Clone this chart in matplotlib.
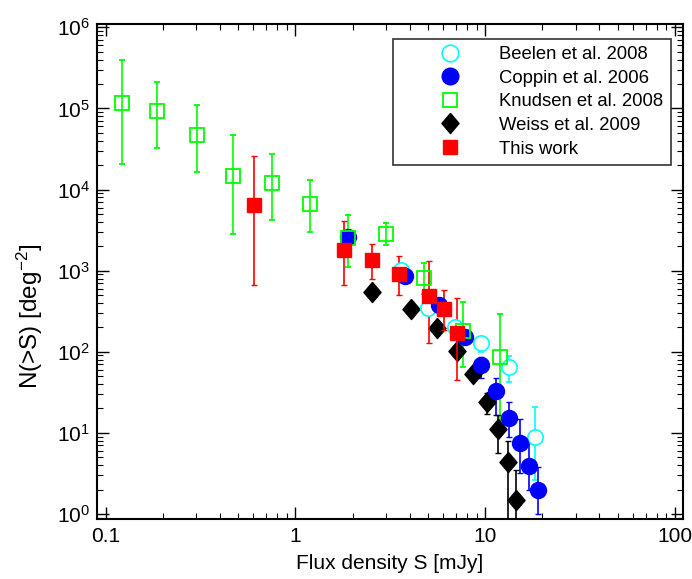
import numpy as np
import matplotlib
matplotlib.use('Agg')
import matplotlib.pyplot as plt
from matplotlib.lines import Line2D
from matplotlib.ticker import LogLocator, FixedLocator, FuncFormatter, NullFormatter

plt.rcParams['font.family'] = ['Liberation Sans', 'DejaVu Sans']
plt.rcParams['mathtext.fontset'] = 'custom'
plt.rcParams['mathtext.rm'] = 'Liberation Sans'
plt.rcParams['mathtext.it'] = 'Liberation Sans:italic'

# Beelen et al. 2008
beelen_s = [3.62, 4.98, 6.89, 9.56, 13.3, 18.4]
beelen_n = [1020, 344, 204, 130, 65.5, 8.98]
beelen_hi = [1020, 344, 204, 150, 88.8, 20.7]
beelen_lo = [1020, 344, 204, 100, 42.8, 2.63]

# Coppin et al. 2006
coppin_s = [1.89, 3.80, 5.69, 7.78, 9.53, 11.4, 13.3, 15.2, 17.1, 19.0]
coppin_n = [2600, 868, 374, 151, 68.8, 33.2, 15.1, 7.45, 3.91, 1.98]
coppin_hi = [2600, 868, 374, 151, 87, 47.9, 24.3, 14.7, 7.57, 3.76]
coppin_lo = [2600, 868, 374, 151, 47.9, 16.6, 8.98, 3.18, 1.98, 1.0]

# Knudsen et al. 2008
knudsen_s = [0.122, 0.187, 0.301, 0.471, 0.754, 1.19, 1.89, 2.99, 4.74, 7.62, 11.9]
knudsen_n = [1.18e5, 9.31e4, 4.71e4, 1.47e4, 1.20e4, 6700, 2510, 2810, 813, 180, 87.1]
knudsen_hi = [3.96e5, 2.14e5, 1.09e5, 4.75e4, 2.77e4, 1.32e4, 4900, 3840, 1234, 415, 290]
knudsen_lo = [2.05e4, 3.29e4, 1.63e4, 2810, 4180, 3030, 1120, 2057, 520, 65.5, 14.4]

# Weiss et al. 2009
weiss_s = [2.53, 4.04, 5.58, 7.06, 8.64, 10.2, 11.7, 13.2, 14.6]
weiss_n = [546, 340, 198, 103, 52.8, 24.3, 11.1, 4.42, 1.49]
weiss_hi = [546, 340, 198, 103, 52.8, 30.8, 16.6, 7.94, 3.49]
weiss_lo = [546, 340, 198, 103, 52.8, 17.1, 5.70, 0.1, 0.1]

# This work
this_s = [0.604, 1.81, 2.53, 3.53, 5.04, 6.08, 7.06]
this_n = [6460, 1800, 1343, 918, 492, 334, 169]
this_hi = [25600, 4100, 2153, 1531, 1318, 578, 457]
this_lo = [666, 666, 797, 506, 129.5, 186, 44.9]

# tick values
xticks = [0.1, 1, 10, 100]
yticks = [1, 10, 100, 1e3, 1e4, 1e5, 1e6]

diamond = [(0, 1), (0.85, 0), (0, -1), (-0.85, 0), (0, 1)]

fig = plt.figure(figsize=(6.92, 5.79), dpi=100)
ax = fig.add_axes([0.1397, 0.1041, 0.847, 0.854])


def yerr(n, lo, hi):
    n = np.array(n); lo = np.array(lo); hi = np.array(hi)
    return [n - lo, hi - n]


ax.errorbar(beelen_s, beelen_n, yerr=yerr(beelen_n, beelen_lo, beelen_hi),
            fmt='o', mfc='white', mec='#00FFFF', mew=1.2, ms=11,
            ecolor='#00FFFF', elinewidth=1.2, capsize=2.5)
ax.errorbar(coppin_s, coppin_n, yerr=yerr(coppin_n, coppin_lo, coppin_hi),
            fmt='o', mfc='#0000FF', mec='#0000FF', ms=11.5,
            ecolor='#0000FF', elinewidth=1.2, capsize=2.5)
ax.errorbar(knudsen_s, knudsen_n, yerr=yerr(knudsen_n, knudsen_lo, knudsen_hi),
            fmt='s', mfc='none', mec='#00FF00', mew=1.3, ms=9.5,
            ecolor='#00FF00', elinewidth=1.2, capsize=2.5)
ax.errorbar(weiss_s, weiss_n, yerr=yerr(weiss_n, weiss_lo, weiss_hi),
            fmt='none', ecolor='black', elinewidth=1.2, capsize=2.5)
ax.plot(weiss_s, weiss_n, ls='none', marker=diamond, color='black', ms=14.5)
ax.errorbar(this_s, this_n, yerr=yerr(this_n, this_lo, this_hi),
            fmt='s', mfc='#FF0000', mec='#FF0000', ms=10,
            ecolor='#FF0000', elinewidth=1.2, capsize=2.5)

ax.set_xscale('log')
ax.set_yscale('log')
ax.set_xlim(0.0896, 110)
ax.set_ylim(0.875, 1.09e6)

ax.xaxis.set_major_locator(FixedLocator(xticks))
ax.yaxis.set_major_locator(FixedLocator(yticks))
ax.xaxis.set_minor_locator(LogLocator(base=10, subs=np.arange(2, 10), numticks=10))
ax.yaxis.set_minor_locator(LogLocator(base=10, subs=np.arange(2, 10), numticks=10))
ax.xaxis.set_major_formatter(FuncFormatter(lambda v, p: '%g' % v))
ax.yaxis.set_major_formatter(FuncFormatter(
    lambda v, p: r'$\mathregular{10^{%d}}$' % int(round(np.log10(v)))))
ax.xaxis.set_minor_formatter(NullFormatter())
ax.yaxis.set_minor_formatter(NullFormatter())

ax.tick_params(which='both', direction='in', top=True, right=True,
               labelsize=15)
ax.tick_params(which='major', length=8.5, width=1.0)
ax.tick_params(which='minor', length=4.3, width=0.8)
ax.tick_params(axis='x', which='major', pad=6)
ax.tick_params(axis='y', which='major', pad=5)
for sp in ax.spines.values():
    sp.set_linewidth(1.5)

ax.set_xlabel('Flux density S [mJy]', fontsize=15, labelpad=6)
ax.set_ylabel(r'N(>S) [deg$^{\mathregular{-2}}$]', fontsize=17.5)
ax.yaxis.set_label_coords(-0.088, 0.41)

handles = [
    Line2D([], [], ls='none', marker='o', mfc='white', mec='#00FFFF', mew=1.2, ms=12),
    Line2D([], [], ls='none', marker='o', color='#0000FF', ms=12),
    Line2D([], [], ls='none', marker='s', mfc='none', mec='#00FF00', mew=1.3, ms=9.5),
    Line2D([], [], ls='none', marker=diamond, color='black', ms=14.5),
    Line2D([], [], ls='none', marker='s', color='#FF0000', ms=10),
]
labels = ['Beelen et al. 2008', 'Coppin et al. 2006', 'Knudsen et al. 2008',
          'Weiss et al. 2009', 'This work']
leg = ax.legend(handles, labels, loc='upper right', bbox_to_anchor=(0.9795, 0.9710),
                fontsize=13.3, frameon=True, fancybox=False, borderpad=0.4,
                labelspacing=0.36, handletextpad=0.0, borderaxespad=0,
                handlelength=5.35, numpoints=1)
leg.get_frame().set_edgecolor('black')
leg.get_frame().set_linewidth(1.2)

fig.savefig('out.png', dpi=100)
